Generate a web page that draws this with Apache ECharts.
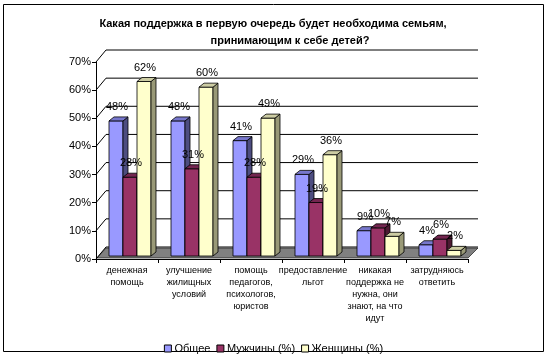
<!DOCTYPE html>
<html><head><meta charset="utf-8">
<script src="https://cdn.jsdelivr.net/npm/echarts@6/dist/echarts.min.js"></script>
<style>html,body{margin:0;padding:0;background:#fff}#c{width:547px;height:361px}</style>
</head><body><div id="c"></div>
<script>
const titleLine1 = 'Какая поддержка в первую очередь будет необходима семьям,';
const titleLine2 = 'принимающим к себе детей?';
const categories = ['денежная\nпомощь','улучшение\nжилищных\nусловий','помощь\nпедагогов,\nпсихологов,\nюристов','предоставление\nльгот','никакая\nподдержка не\nнужна, они\nзнают, на что\nидут','затрудняюсь\nответить'];
const seriesNames = ['Общее','Мужчины (%)','Женщины (%)'];
const totalVals = [48, 48, 41, 29, 9, 4];
const menVals = [28, 31, 28, 19, 10, 6];
const womenVals = [62, 60, 49, 36, 7, 2];
const yTicks = [0, 10, 20, 30, 40, 50, 60, 70];

const FONT = 'Arial, "Liberation Sans", sans-serif';
const palette = [
  {front:'#9999ff', side:'#4d4d80', top:'#7777cc'},
  {front:'#993366', side:'#4d1a33', top:'#732650'},
  {front:'#ffffcc', side:'#999977', top:'#cccca3'}
];
const DX = 10, DY = 12; // wall depth

function barRender(sIdx){
  return function(params, api){
    const ci = api.value(0), v = api.value(1);
    const t = api.coord([ci, v]);
    const b = api.coord([ci, 0]);
    const bw = 14, dx = 5, dy = 4, ox = 0, oy = 3;
    const x = t[0] - 18 + bw * sIdx + ox;
    const yT = t[1] - oy, yB = b[1] - oy;
    const c = palette[sIdx];
    const ls = {stroke:'#000', lineWidth:0.8};
    return {type:'group', children:[
      {type:'rect', shape:{x:x, y:yT, width:bw, height:yB-yT}, style:Object.assign({fill:c.front}, ls)},
      {type:'polygon', shape:{points:[[x+bw,yT],[x+bw+dx,yT-dy],[x+bw+dx,yB-dy],[x+bw,yB]]}, style:Object.assign({fill:c.side}, ls)},
      {type:'polygon', shape:{points:[[x,yT],[x+dx,yT-dy],[x+bw+dx,yT-dy],[x+bw,yT]]}, style:Object.assign({fill:c.top}, ls)},
      {type:'text', z2:100, style:{text:v+'%', x:x+bw/2+1, y:yT-14, align:'center', verticalAlign:'middle', font:'11px '+FONT, fill:'#000'}}
    ]};
  };
}

function wallRender(params, api){
  const v = api.value(0);
  const p = api.coord([0, v]);
  const cs = params.coordSys;
  const x0 = cs.x, x1 = cs.x + cs.width;
  const children = [
    {type:'line', shape:{x1:x0, y1:p[1], x2:x0+DX, y2:p[1]-DY}, style:{stroke:'#000', lineWidth:1}},
    {type:'line', shape:{x1:x0+DX, y1:p[1]-DY, x2:x1+DX, y2:p[1]-DY}, style:{stroke:'#000', lineWidth:1}}
  ];
  if (v === 0) {
    children.unshift({type:'polygon', shape:{points:[[x0+1,p[1]-1],[x1,p[1]-1],[x1+DX,p[1]-DY+1],[x0+DX,p[1]-DY+1]]}, style:{fill:'#808080', stroke:'#000', lineWidth:0.6}});
  }
  return {type:'group', children};
}

const chart = echarts.init(document.getElementById('c'));
const vals = [totalVals, menVals, womenVals];
const series = [{
  type:'custom', name:'walls', silent:true, z:1,
  data: yTicks.map(v => [v]),
  encode:{y:0},
  renderItem: wallRender
}];
vals.forEach((arr, i) => {
  series.push({
    type:'custom', name:seriesNames[i], z:2,
    itemStyle:{color:palette[i].front, borderColor:'#000', borderWidth:1},
    data: arr.map((v, ci) => [ci, v]),
    encode:{x:0, y:1},
    renderItem: barRender(i)
  });
});

chart.setOption({
  animation:false,
  backgroundColor:'#fff',
  title:[
    {text:titleLine1, left:273, top:18, padding:0, textAlign:'center', textStyle:{fontFamily:FONT, fontSize:11, fontWeight:'bold', color:'#000'}},
    {text:titleLine2, left:290, top:35, padding:0, textAlign:'center', textStyle:{fontFamily:FONT, fontSize:11, fontWeight:'bold', color:'#000'}}
  ],
  grid:{left:96, right:79, top:62, bottom:102, containLabel:false},
  xAxis:{
    type:'category', data:categories, boundaryGap:true,
    axisLine:{lineStyle:{color:'#000', width:1}},
    axisTick:{show:true, interval:0, length:4, lineStyle:{color:'#000'}},
    axisLabel:{interval:0, fontFamily:FONT, fontSize:9, lineHeight:12, color:'#000', margin:6}
  },
  yAxis:{
    type:'value', min:0, max:70, interval:10,
    axisLine:{show:true, lineStyle:{color:'#000', width:1}},
    axisTick:{show:true, length:4, lineStyle:{color:'#000'}},
    axisLabel:{formatter:'{value}%', fontFamily:FONT, fontSize:11, color:'#000', margin:5},
    splitLine:{show:false}
  },
  legend:{
    data: seriesNames.map((n, i) => ({name:n, icon:'rect', itemStyle:{color:palette[i].front, borderColor:'#000', borderWidth:1}})),
    left:'center', top:338, itemWidth:7, itemHeight:7, itemGap:6,
    textStyle:{fontFamily:FONT, fontSize:11, color:'#000', padding:[0,0,0,-2]}
  },
  graphic:[{type:'rect', shape:{x:3.5, y:4.5, width:540, height:347}, style:{fill:'none', stroke:'#000', lineWidth:1}, silent:true, z:-1}],
  series: series
});
</script></body></html>
